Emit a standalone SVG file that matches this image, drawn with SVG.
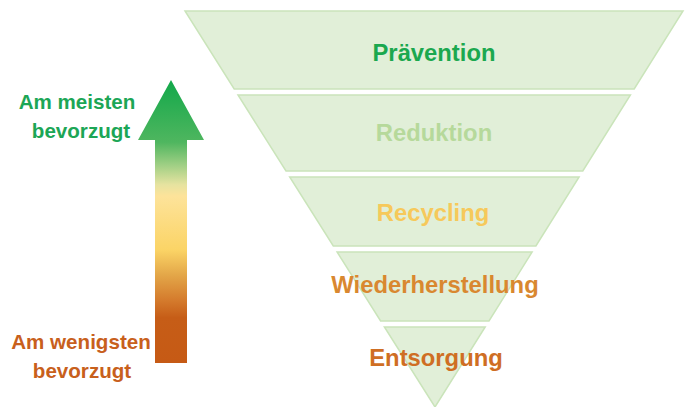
<svg xmlns="http://www.w3.org/2000/svg" width="690" height="407" viewBox="0 0 690 407">
  <defs>
    <linearGradient id="prefGrad" x1="0" y1="80" x2="0" y2="363" gradientUnits="userSpaceOnUse">
      <stop offset="0" stop-color="#12a84a"/>
      <stop offset="0.22" stop-color="#4fb65f"/>
      <stop offset="0.3" stop-color="#9fcf84"/>
      <stop offset="0.37" stop-color="#e6e3a0"/>
      <stop offset="0.41" stop-color="#fde39a"/>
      <stop offset="0.6" stop-color="#fbd466"/>
      <stop offset="0.69" stop-color="#e3a648"/>
      <stop offset="0.78" stop-color="#d47a2c"/>
      <stop offset="0.84" stop-color="#c65d17"/>
      <stop offset="1" stop-color="#c65a15"/>
    </linearGradient>
  </defs>
  <style>
    .band { fill: #e1efd8; stroke: #cae4ba; stroke-width: 1.5; stroke-linejoin: miter; }
    .lvl { font-family: "Liberation Sans", Arial, sans-serif; font-weight: bold; font-size: 23.8px; text-anchor: middle; }
    .side { font-family: "Liberation Sans", Arial, sans-serif; font-weight: bold; font-size: 20.6px; text-anchor: middle; }
  </style>
  <rect width="690" height="407" fill="#ffffff"/>

  <!-- preference arrow -->
  <g id="arrow">
    <path d="M155 363 L155 140 L138 140 L171 80 L204 140 L187 140 L187 363 Z" fill="url(#prefGrad)"/>
  </g>
  <g id="label-most" class="side" fill="#1ca656">
    <text x="77" y="109">Am meisten</text>
    <text x="81" y="138">bevorzugt</text>
  </g>
  <g id="label-least" class="side" fill="#c8601c">
    <text x="81" y="349">Am wenigsten</text>
    <text x="82" y="378">bevorzugt</text>
  </g>

  <!-- waste hierarchy bands -->
  <g id="praevention">
    <polygon class="band" points="185,11 683,11 634.2,89 234.2,89"/>
    <text class="lvl" x="434" y="61" fill="#1ba84f">Prävention</text>
  </g>
  <g id="reduktion">
    <polygon class="band" points="238,95 630.4,95 582.8,171 286,171"/>
    <text class="lvl" x="434" y="141" fill="#b6d99b">Reduktion</text>
  </g>
  <g id="recycling">
    <polygon class="band" points="289.7,177 579.1,177 535.9,246 333.3,246"/>
    <text class="lvl" x="433" y="221" fill="#f6c95b">Recycling</text>
  </g>
  <g id="wiederherstellung">
    <polygon class="band" points="337.1,252 532.1,252 489,321 380.6,321"/>
    <text class="lvl" x="435" y="293" fill="#d98830">Wiederherstellung</text>
  </g>
  <g id="entsorgung">
    <polygon class="band" points="384.4,327 485.2,327 435,407"/>
    <text class="lvl" x="436" y="366" fill="#cf6e23">Entsorgung</text>
  </g>
</svg>
